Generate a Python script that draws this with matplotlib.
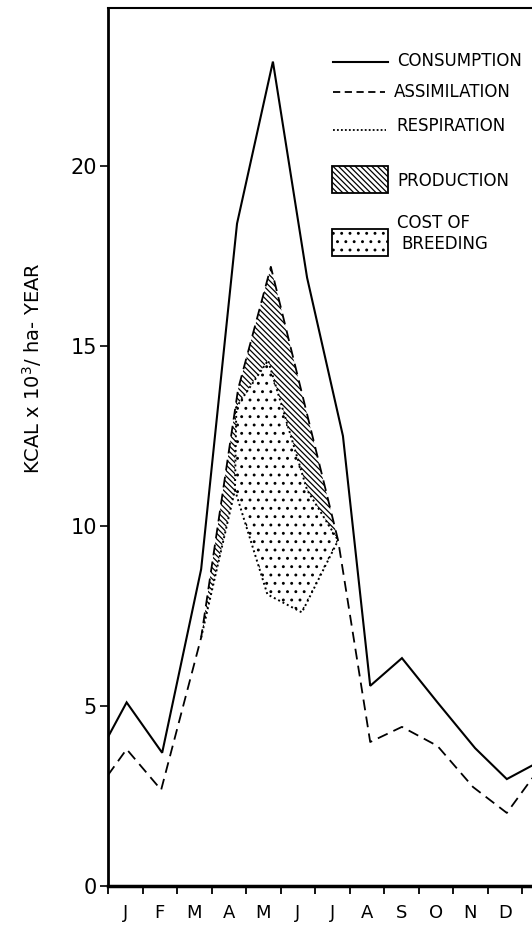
import matplotlib
matplotlib.use("Agg")
import matplotlib.pyplot as plt
from matplotlib.patches import Rectangle
from matplotlib.lines import Line2D
import numpy as np

# --- Data (KCAL x 10^3 / ha-year), x in month units from Jan 1 ---
months = ["J", "F", "M", "A", "M", "J", "J", "A", "S", "O", "N", "D"]

consumption_x = [0, 0.54, 1.57, 2.7, 3.74, 4.78, 5.77, 6.81, 7.6, 8.52, 9.55, 10.64, 11.56, 12.3]
consumption_y = [4.14, 5.1, 3.7, 8.8, 18.4, 22.9, 16.9, 12.5, 5.56, 6.33, 5.1, 3.83, 2.97, 3.35]

assimilation_x = [0, 0.54, 1.54, 2.7, 3.77, 4.72, 6.67, 7.6, 8.52, 9.55, 10.58, 11.56, 12.3]
assimilation_y = [3.08, 3.8, 2.67, 6.9, 13.8, 17.2, 9.6, 4.0, 4.42, 3.89, 2.75, 2.03, 3.0]

respiration_x = [2.7, 3.68, 3.72, 4.64, 5.77, 6.67]
respiration_y = [6.9, 11.0, 13.3, 14.6, 11.0, 9.6]

# respiration without the cost of breeding (lower edge of the stippled area)
maintenance_x = [3.68, 4.62, 5.62, 6.67]
maintenance_y = [11.0, 8.1, 7.6, 9.6]

W, H = 532, 927
plt.rcParams["hatch.linewidth"] = 0.9
fig = plt.figure(figsize=(W / 100, H / 100), dpi=100)
ax = fig.add_axes([108 / W, 1 - 886 / H, 1 - 108 / W, (886 - 8) / H])
ax.set_xlim(0, (W - 108) / 34.5)
ax.set_ylim(0, 878 / 36)

# production: between assimilation and respiration
xg = np.union1d(respiration_x, [x for x in assimilation_x if 2.7 <= x <= 6.67])
a_g = np.interp(xg, assimilation_x, assimilation_y)
r_g = np.interp(xg, respiration_x, respiration_y)
ax.fill_between(xg, r_g, a_g, facecolor="white", edgecolor="black",
                hatch="\\" * 6, linewidth=0)

# cost of breeding: between respiration and maintenance line
rx = [x for x in respiration_x if x >= 3.68]
ry = [y for x, y in zip(respiration_x, respiration_y) if x >= 3.68]
poly_x = rx + maintenance_x[::-1]
poly_y = ry + maintenance_y[::-1]
ax.fill(poly_x, poly_y, facecolor="white", edgecolor="black", hatch="..", linewidth=0)

ax.plot(consumption_x, consumption_y, color="black", lw=1.5, solid_joinstyle="miter")
ax.plot(assimilation_x, assimilation_y, color="black", lw=1.3, linestyle=(0, (6, 3.5)))
ax.plot(respiration_x, respiration_y, color="black", lw=1.4, linestyle=(0, (1, 1.5)))
ax.plot(maintenance_x, maintenance_y, color="black", lw=1.4, linestyle=(0, (1, 1.5)))

# --- Axes styling ---
ax.spines["right"].set_visible(False)
ax.spines["bottom"].set_linewidth(2.5)
ax.spines["left"].set_linewidth(2.0)
ax.spines["top"].set_linewidth(1.5)

ax.set_xticks(range(13))
ax.set_xticklabels([])
ax.set_xticks(np.arange(12) + 0.5, minor=True)
ax.set_xticklabels(months, minor=True, fontsize=13)
ax.tick_params(axis="x", which="major", direction="out", length=6, width=1.3)
ax.tick_params(axis="x", which="minor", length=0, pad=13)

ax.set_yticks([0, 5, 10, 15, 20])
ax.set_yticklabels(["0", "5", "10", "15", "20"], fontsize=15)
ax.tick_params(axis="y", direction="out", length=6, width=1.2, pad=2)

ax.set_ylabel("KCAL x 10$^3$/ ha- YEAR", fontsize=14)
ax.yaxis.set_label_coords(-0.15, 0.59)

# --- Legend drawn by hand ---
def fx(px):
    return px / W

def fy(py):
    return 1 - py / H

fig.add_artist(Line2D([fx(333), fx(388)], [fy(62), fy(62)], color="black", lw=1.5))
fig.add_artist(Line2D([fx(333), fx(385)], [fy(92), fy(92)], color="black", lw=1.3,
                      linestyle=(0, (4, 2.5))))
fig.add_artist(Line2D([fx(333), fx(386)], [fy(130), fy(130)], color="black", lw=1.3,
                      linestyle=(0, (1, 1.2))))
fig.add_artist(Rectangle((fx(332), fy(193)), fx(388) - fx(332), fy(166) - fy(193),
                         facecolor="white", edgecolor="black", hatch="\\" * 6, lw=1.3))
fig.add_artist(Rectangle((fx(332), fy(256)), fx(388) - fx(332), fy(229) - fy(256),
                         facecolor="white", edgecolor="black", hatch="..", lw=1.3))

legend_items = [("CONSUMPTION", 397, 61), ("ASSIMILATION", 394, 92),
                ("RESPIRATION", 396, 126), ("PRODUCTION", 397, 181),
                ("COST OF", 397, 223), ("BREEDING", 401, 244)]
for label, px, py in legend_items:
    fig.text(fx(px), fy(py), label, fontsize=12, ha="left", va="center")

fig.savefig("out.png", dpi=100)
